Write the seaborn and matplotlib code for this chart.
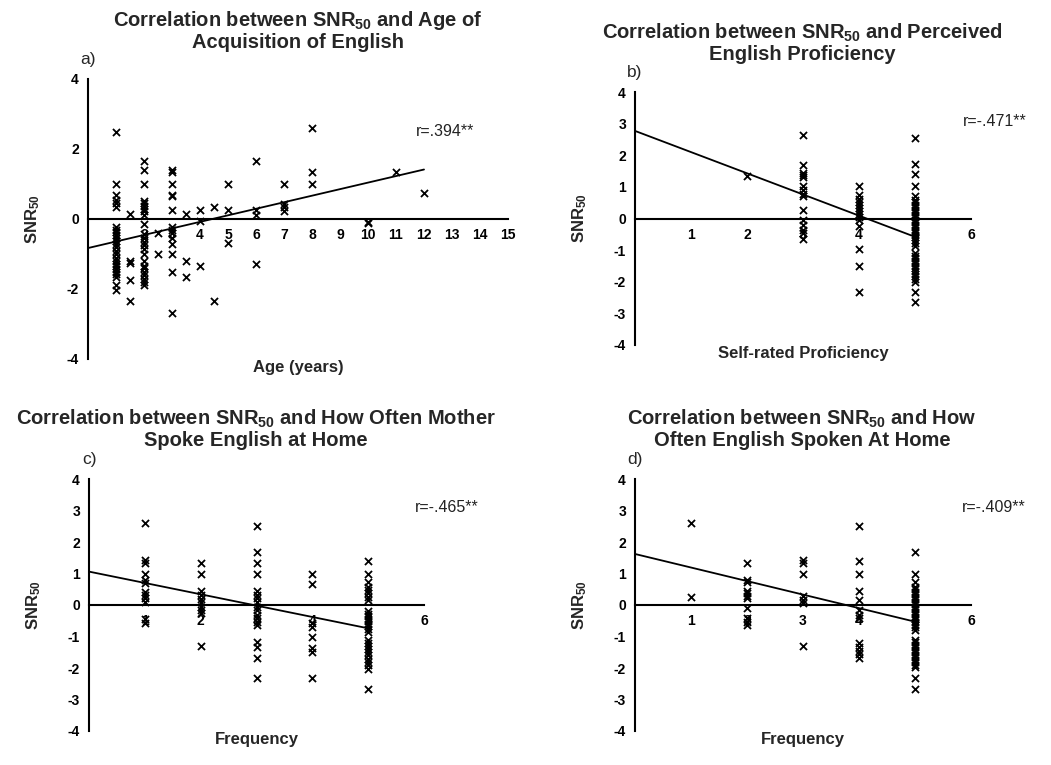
import numpy as np
import pandas as pd
import matplotlib
matplotlib.use("Agg")
import matplotlib.pyplot as plt
import seaborn as sns

# ---------------- data ----------------
# a) Age of acquisition of English (years)
age_levels = [1, 1.5, 2, 2.5, 3, 3.5, 4, 4.5, 5, 6, 7, 8, 10, 11, 12]
age_snr = [
    [2.5, 1.0, 0.7, 0.55, 0.45, 0.35, -0.22, -0.3, -0.38, -0.46, -0.54, -0.62, -0.7,
     -0.8, -0.9, -1.0, -1.1, -1.2, -1.28, -1.35, -1.42, -1.5, -1.58, -1.66, -1.88, -2.02],
    [0.13, -1.2, -1.25, -1.75, -2.33],
    [1.67, 1.4, 1.0, 0.52, 0.45, 0.38, 0.3, 0.22, 0.12, -0.13, -0.42, -0.55, -0.65, -0.75,
     -0.85, -1.0, -1.2, -1.33, -1.4, -1.5, -1.6, -1.72, -1.8, -1.88],
    [-0.4, -1.0],
    [1.4, 1.33, 1.0, 0.7, 0.65, 0.25, -0.22, -0.3, -0.4, -0.55, -0.7, -1.0, -1.5, -2.68],
    [0.13, -1.2, -1.67],
    [0.25, -0.05, -1.33],
    [0.33, -2.33],
    [1.0, 0.25, -0.68],
    [1.67, 0.25, 0.12, -1.28],
    [1.0, 0.44, 0.33, 0.23],
    [2.6, 1.33, 1.0],
    [-0.08, -0.1],
    [1.33],
    [0.75],
]
age_fit = (-0.83, 0.187, 12)          # intercept, slope, last x of fitted line
age_r = "r=.394**"

# b) Self-rated proficiency
prof_levels = [2, 3, 4, 5]
prof_snr = [
    [1.34],
    [2.63, 1.7, 1.44, 1.36, 1.3, 1.02, 0.9, 0.76, 0.7, 0.27, -0.05, -0.2, -0.35, -0.47, -0.66],
    [1.02, 0.75, 0.62, 0.52, 0.44, 0.34, 0.24, 0.14, 0.05, -0.05, -0.24, -0.98, -1.5, -2.32],
    [2.53, 1.72, 1.42, 1.02, 0.7, 0.6, 0.52, 0.44, 0.36, 0.28, 0.2, 0.12, 0.05, -0.05, -0.12,
     -0.2, -0.28, -0.36, -0.44, -0.52, -0.6, -0.68, -0.76, -0.88, -1.1, -1.18, -1.26, -1.34,
     -1.42, -1.5, -1.58, -1.66, -1.74, -1.82, -1.9, -2.0, -2.33, -2.65],
]
prof_fit = (2.77, -0.67, 5)
prof_r = "r=-.471**"

# c) How often mother spoke English at home
mother_levels = [1, 2, 3, 4, 5]
mother_snr = [
    [2.61, 1.42, 1.34, 1.0, 0.8, 0.7, 0.4, 0.32, 0.22, 0.1, -0.46, -0.56],
    [1.34, 1.0, 0.45, 0.32, 0.2, 0.1, -0.05, -0.16, -0.26, -1.3],
    [2.5, 1.69, 1.34, 1.0, 0.45, 0.32, 0.21, 0.08, -0.05, -0.16, -0.32, -0.42, -0.53, -0.63,
     -1.16, -1.32, -1.67, -2.33],
    [1.0, 0.67, -0.56, -0.71, -1.0, -1.35, -1.48, -2.33],
    [1.4, 1.0, 0.72, 0.58, 0.48, 0.37, 0.26, 0.16, -0.2, -0.28, -0.36, -0.44, -0.52, -0.6,
     -0.68, -0.76, -0.86, -1.1, -1.2, -1.3, -1.4, -1.5, -1.6, -1.7, -1.8, -1.9, -2.03, -2.68],
]
mother_fit = (1.06, -0.36, 5)
mother_r = "r=-.465**"

# d) How often English spoken at home
home_levels = [1, 2, 3, 4, 5]
home_snr = [
    [2.61, 0.26],
    [1.34, 0.79, 0.72, 0.45, 0.37, 0.29, 0.21, -0.1, -0.42, -0.53, -0.63],
    [1.43, 1.34, 1.0, 0.29, 0.16, 0.05, -1.3],
    [2.5, 1.4, 1.0, 0.45, 0.16, -0.16, -0.32, -0.42, -1.22, -1.32, -1.45, -1.56, -1.67],
    [1.67, 1.0, 0.72, 0.58, 0.5, 0.42, 0.34, 0.26, 0.18, 0.1, 0.02, -0.06, -0.14, -0.22,
     -0.3, -0.38, -0.46, -0.54, -0.62, -0.7, -0.8, -1.1, -1.18, -1.26, -1.34, -1.42, -1.5,
     -1.58, -1.66, -1.74, -1.82, -1.9, -1.98, -2.33, -2.68],
]
home_fit = (1.62, -0.43, 5)
home_r = "r=-.409**"

titles = [
    "Correlation between SNR$_{50}$ and Age of\nAcquisition of English",
    "Correlation between SNR$_{50}$ and Perceived\nEnglish Proficiency",
    "Correlation between SNR$_{50}$ and How Often Mother\nSpoke English at Home",
    "Correlation between SNR$_{50}$ and How\nOften English Spoken At Home",
]
xlabels = ["Age (years)", "Self-rated Proficiency", "Frequency", "Frequency"]
letters = ["a)", "b)", "c)", "d)"]
ylabel = "SNR$_{50}$"

# ---------------- styling ----------------
sns.set_theme(style="white")
plt.rcParams["font.family"] = ["Liberation Sans", "DejaVu Sans"]
plt.rcParams["mathtext.default"] = "regular"
plt.rcParams["axes.unicode_minus"] = False

W, H = 1051, 765
fig = plt.figure(figsize=(W / 100, H / 100), dpi=100)


def add_ax(x0, x1, y0, y1):
    return fig.add_axes([x0 / W, 1 - y1 / H, (x1 - x0) / W, (y1 - y0) / H])


def panel(box, levels, groups, fit, rtext, rpos, xmax, xticks, yticks,
          title, title_xy, xlabel, letter, letter_xy):
    x0, x1, y0, y1 = box
    ax = add_ax(*box)
    df = pd.DataFrame({
        "x": np.repeat(levels, [len(g) for g in groups]),
        "y": np.concatenate([np.asarray(g, float) for g in groups]),
    })
    a, b, xend = fit
    fx = np.array([0.0, xend])
    sns.lineplot(x=fx, y=a + b * fx, color="black", linewidth=1.3, ax=ax, zorder=3)
    sns.scatterplot(data=df, x="x", y="y", marker="x", color="black", s=26,
                    linewidth=1.3, ax=ax, zorder=4, clip_on=False)
    ax.set_xlim(0, xmax)
    ax.set_ylim(-4, 4)
    for s in ("top", "right"):
        ax.spines[s].set_visible(False)
    ax.spines["bottom"].set_position(("data", 0))
    for s in ("bottom", "left"):
        ax.spines[s].set_linewidth(1.5)
        ax.spines[s].set_color("black")
    ax.set_xticks(xticks)
    ax.set_yticks(yticks)
    ax.tick_params(direction="out", length=4.5, width=1.3, labelsize=10,
                   pad=2, colors="black")
    for lab in ax.get_xticklabels() + ax.get_yticklabels():
        lab.set_fontweight("bold")
    ax.set_xlabel("")
    ax.set_ylabel("")
    ax.text(rpos[0], rpos[1], rtext, fontsize=11.5, ha="left", va="center",
            color="#222222")
    # x label below the axis, y label to the left
    fig.text(((x0 + x1) / 2) / W, 1 - (y1 + 1) / H, xlabel, ha="center", va="top",
             fontsize=12, fontweight="bold")
    fig.text((x0 - 55) / W, 1 - ((y0 + y1) / 2) / H, ylabel, rotation=90,
             ha="center", va="center", fontsize=12, fontweight="bold")
    fig.text(title_xy[0] / W, 1 - title_xy[1] / H, title, ha="center", va="top",
             fontsize=14.5, fontweight="bold", linespacing=1.05)
    fig.text(letter_xy[0] / W, 1 - letter_xy[1] / H, letter, ha="left", va="top",
             fontsize=12.5)
    return ax


panel((88, 508, 79, 359), age_levels, age_snr, age_fit, age_r, (11.7, 2.5),
      15, list(range(1, 16)), [-4, -2, 0, 2, 4],
      titles[0], (298, 9), xlabels[0], letters[0], (80, 52))
panel((635, 971, 92, 345), prof_levels, prof_snr, prof_fit, prof_r, (5.86, 3.07),
      6, [1, 2, 3, 4, 5, 6], list(range(-4, 5)),
      titles[1], (802, 22), xlabels[1], letters[1], (627, 65))
panel((89, 424, 479, 731), mother_levels, mother_snr, mother_fit, mother_r, (5.84, 3.1),
      6, [1, 2, 3, 4, 5, 6], list(range(-4, 5)),
      titles[2], (256, 408), xlabels[2], letters[2], (82, 452))
panel((635, 971, 479, 731), home_levels, home_snr, home_fit, home_r, (5.84, 3.1),
      6, [1, 2, 3, 4, 5, 6], list(range(-4, 5)),
      titles[3], (802, 408), xlabels[3], letters[3], (627, 452))

fig.savefig("out.png", dpi=100, facecolor="white")
